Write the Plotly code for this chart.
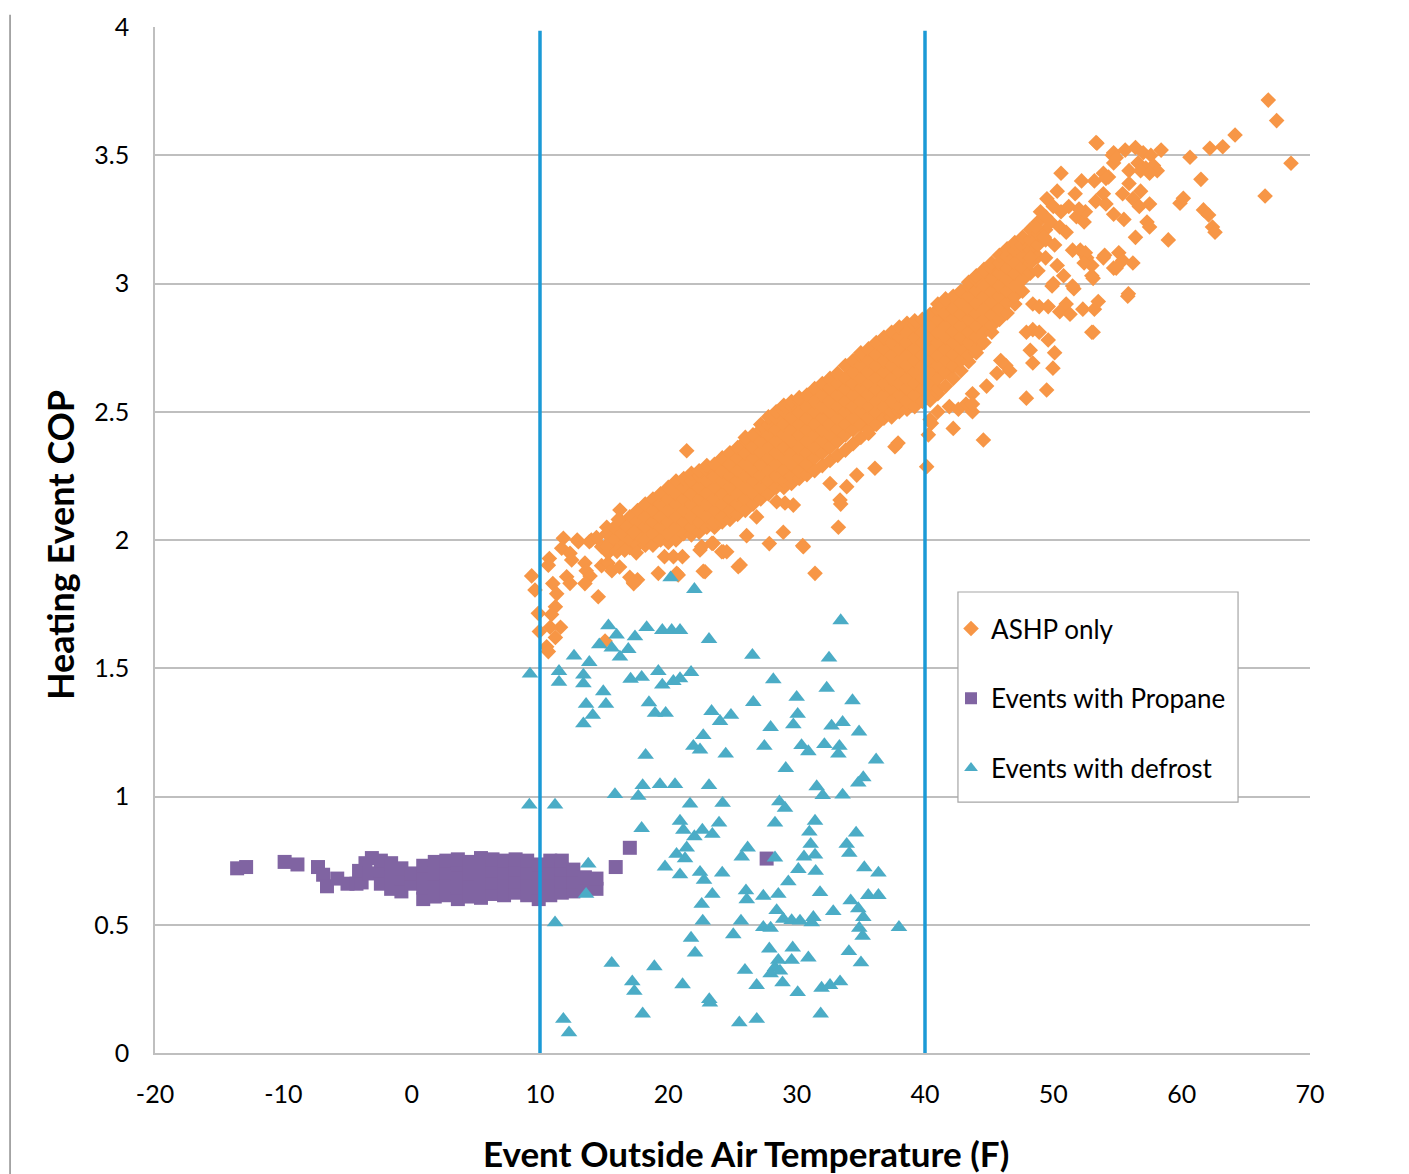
import plotly.graph_objects as go

# ---------------- data ----------------
# ASHP only: dense band, one column of events per x position
ashp_band_col_x = [15.2, 15.8, 16.4, 17.0, 17.6, 18.2, 18.8, 19.4, 20.0, 20.6,
                   21.2, 21.8, 22.4, 23.0, 23.6, 24.2, 24.8, 25.4, 26.0, 26.6,
                   27.2, 27.8, 28.4, 29.0, 29.6, 30.2, 30.8, 31.4, 32.0, 32.6,
                   33.2, 33.8, 34.4, 35.0, 35.6, 36.2, 36.8, 37.4, 38.0, 38.6,
                   39.2, 39.8, 40.4, 41.0, 41.6, 42.2, 42.8, 43.4, 44.0, 44.6,
                   45.2, 45.8, 46.4, 47.0, 47.6, 48.2, 48.8, 49.4]
ashp_band_col_y = [
    [1.96, 1.98, 2.025, 2.05],
    [1.97, 2.0, 2.05],
    [1.98, 2.025, 2.07],
    [1.97, 2.0, 2.05, 2.09],
    [1.98, 2.025, 2.07, 2.115],
    [1.98, 2.0, 2.05, 2.09, 2.14],
    [1.98, 2.025, 2.07, 2.115, 2.16],
    [2.0, 2.05, 2.09, 2.14, 2.18],
    [1.99, 2.025, 2.07, 2.115, 2.16, 2.205],
    [2.0, 2.05, 2.09, 2.14, 2.18, 2.23],
    [2.025, 2.07, 2.115, 2.16, 2.205, 2.24],
    [2.02, 2.05, 2.09, 2.14, 2.18, 2.23, 2.26],
    [2.03, 2.07, 2.115, 2.16, 2.205, 2.25, 2.27],
    [2.05, 2.09, 2.14, 2.18, 2.23, 2.27, 2.29],
    [2.05, 2.07, 2.115, 2.16, 2.205, 2.25, 2.295],
    [2.07, 2.09, 2.14, 2.18, 2.23, 2.27, 2.32],
    [2.08, 2.115, 2.16, 2.205, 2.25, 2.295, 2.34],
    [2.10, 2.14, 2.18, 2.23, 2.27, 2.32, 2.36],
    [2.115, 2.16, 2.205, 2.25, 2.295, 2.34, 2.385, 2.40],
    [2.14, 2.18, 2.23, 2.27, 2.32, 2.36, 2.41],
    [2.16, 2.205, 2.25, 2.295, 2.34, 2.385, 2.43, 2.45],
    [2.18, 2.23, 2.27, 2.32, 2.36, 2.41, 2.45, 2.48],
    [2.205, 2.25, 2.295, 2.34, 2.385, 2.43, 2.475, 2.50],
    [2.205, 2.23, 2.27, 2.32, 2.36, 2.41, 2.45, 2.50, 2.525],
    [2.22, 2.25, 2.295, 2.34, 2.385, 2.43, 2.475, 2.52, 2.54],
    [2.24, 2.27, 2.32, 2.36, 2.41, 2.45, 2.50, 2.54, 2.555],
    [2.255, 2.295, 2.34, 2.385, 2.43, 2.475, 2.52, 2.565],
    [2.27, 2.32, 2.36, 2.41, 2.45, 2.50, 2.54, 2.59],
    [2.29, 2.34, 2.385, 2.43, 2.475, 2.52, 2.565, 2.61],
    [2.31, 2.36, 2.41, 2.45, 2.50, 2.54, 2.59, 2.63],
    [2.33, 2.385, 2.43, 2.475, 2.52, 2.565, 2.61, 2.65],
    [2.35, 2.41, 2.45, 2.50, 2.54, 2.59, 2.63, 2.68],
    [2.375, 2.43, 2.475, 2.52, 2.565, 2.61, 2.655, 2.70],
    [2.40, 2.45, 2.50, 2.54, 2.59, 2.63, 2.68, 2.72, 2.73],
    [2.415, 2.43, 2.475, 2.52, 2.565, 2.61, 2.655, 2.70, 2.745],
    [2.45, 2.50, 2.54, 2.59, 2.63, 2.68, 2.72, 2.77],
    [2.475, 2.52, 2.565, 2.61, 2.655, 2.70, 2.745, 2.79],
    [2.48, 2.50, 2.54, 2.59, 2.63, 2.68, 2.72, 2.77, 2.81],
    [2.50, 2.52, 2.565, 2.61, 2.655, 2.70, 2.745, 2.79, 2.83],
    [2.51, 2.54, 2.59, 2.63, 2.68, 2.72, 2.77, 2.81, 2.845],
    [2.52, 2.565, 2.61, 2.655, 2.70, 2.745, 2.79, 2.835, 2.855],
    [2.54, 2.59, 2.63, 2.68, 2.72, 2.77, 2.81, 2.86],
    [2.545, 2.565, 2.61, 2.655, 2.70, 2.745, 2.79, 2.835, 2.88],
    [2.57, 2.59, 2.63, 2.68, 2.72, 2.77, 2.81, 2.86, 2.90, 2.92],
    [2.60, 2.655, 2.70, 2.745, 2.79, 2.835, 2.88, 2.925, 2.94],
    [2.63, 2.68, 2.72, 2.77, 2.81, 2.86, 2.90, 2.95],
    [2.66, 2.70, 2.745, 2.79, 2.835, 2.88, 2.925, 2.97],
    [2.695, 2.72, 2.77, 2.81, 2.86, 2.90, 2.95, 2.99, 3.005],
    [2.73, 2.745, 2.79, 2.835, 2.88, 2.925, 2.97, 3.015, 3.03],
    [2.77, 2.81, 2.86, 2.90, 2.95, 2.99, 3.04, 3.055],
    [2.81, 2.835, 2.88, 2.925, 2.97, 3.015, 3.06, 3.08],
    [2.86, 2.90, 2.95, 2.99, 3.04, 3.08, 3.11],
    [2.885, 2.925, 2.97, 3.015, 3.06, 3.105, 3.135],
    [2.92, 2.95, 2.99, 3.04, 3.08, 3.13, 3.16],
    [2.97, 3.015, 3.06, 3.105, 3.15, 3.18],
    [3.04, 3.08, 3.13, 3.17, 3.21],
    [3.105, 3.15, 3.195, 3.24],
    [3.17, 3.21, 3.26],
]

# ASHP only: scattered events outside the dense band
ashp_sparse_x = [
    9.35, 9.61, 9.87, 9.95, 10.52, 10.73, 10.65, 11.0, 11.3, 11.2, 10.9, 11.6, 10.8, 11.2,
    11.82, 11.69, 12.34, 12.47, 12.08, 12.34, 12.99, 13.85, 13.5, 13.6, 13.9, 13.5, 14.54,
    14.8, 15.2, 14.8, 15.3, 15.6, 16.2, 16.23, 16.1, 16.8, 17.3, 17.0, 17.3, 17.6, 15.3,
    16.0, 16.6, 17.5, 19.22, 20.65, 19.7, 20.4, 21.1, 21.43, 22.86, 24.16, 22.6, 23.4,
    25.45, 10.65, 15.07, 14.0, 14.4, 12.9, 31.43, 28.96, 30.47, 27.87, 33.25, 33.43, 26.1,
    24.28, 22.72, 20.77, 17.27, 36.1, 42.2, 40.13, 37.66, 37.9, 33.38, 33.9, 34.68, 32.6,
    30.52, 25.6, 24.55, 23.5, 22.47, 29.74, 29.09, 28.44, 26.88, 40.4, 41.0, 41.9, 42.6,
    43.2, 43.7, 40.5, 40.26, 44.55, 43.7, 44.8, 43.7, 45.9, 46.3, 46.6, 45.6, 47.9, 49.48,
    47.9, 48.4, 48.9, 49.6, 50.1, 49.97, 48.4, 48.2, 48.4, 48.9, 49.6, 50.0, 51.0, 50.5,
    51.3, 52.3, 53.2, 53.5, 53.0, 50.3, 50.8, 49.9, 51.5, 51.6, 51.5, 52.1, 52.6, 53.9,
    53.0, 53.0, 54.7, 49.5, 50.0, 50.6, 51.2, 51.8, 52.4, 49.8, 50.5, 51.0, 51.7, 50.3,
    49.0, 48.6, 49.3, 50.1, 48.2, 48.8, 49.4, 50.6, 52.2, 53.4, 54.6, 53.9, 54.3, 53.33,
    54.7, 55.6, 56.4, 57.0, 57.6, 58.4, 56.6, 57.2, 57.8, 58.1, 55.9, 56.8, 57.5, 54.7,
    54.9, 53.2, 54.1, 55.9, 55.4, 56.2, 56.8, 57.5, 56.7, 53.9, 54.1, 53.3, 52.5, 52.0,
    54.7, 55.5, 57.3, 57.5, 56.4, 55.1, 55.4, 56.2, 54.9, 54.0, 52.5, 52.4, 53.1, 55.85,
    53.1, 55.8, 58.96, 59.87, 60.13, 60.65, 61.5, 61.7, 62.1, 62.4, 62.6, 62.2, 63.2,
    64.16, 66.5, 66.75, 67.4, 68.52,
]
ashp_sparse_y = [
    1.86, 1.805, 1.714, 1.643, 1.584, 1.928, 1.902, 1.83, 1.79, 1.74, 1.71, 1.66, 1.66, 1.62,
    2.007, 1.968, 1.948, 1.922, 1.857, 1.831, 1.993, 1.993, 1.91, 1.88, 1.86, 1.83, 1.779,
    1.974, 1.974, 1.90, 1.91, 1.88, 1.895, 2.117, 2.08, 2.05, 2.03, 1.855, 1.83, 1.845, 1.95,
    1.955, 1.96, 1.95, 1.87, 1.87, 1.935, 1.935, 1.935, 2.348, 1.876, 1.954, 1.974, 1.987,
    1.896, 1.565, 1.606, 2.0, 2.01, 2.0, 1.87, 2.03, 1.978, 1.986, 2.05, 2.14, 2.017,
    1.954, 1.878, 1.864, 1.836, 2.28, 2.435, 2.286, 2.364, 2.378, 2.156, 2.208, 2.253, 2.22,
    1.974, 1.903, 1.954, 1.987, 1.961, 2.136, 2.144, 2.149, 2.09, 2.47, 2.50, 2.52, 2.51,
    2.53, 2.50, 2.455, 2.41, 2.39, 2.57, 2.60, 2.53, 2.70, 2.68, 2.66, 2.65, 2.553, 2.585,
    2.81, 2.82, 2.81, 2.78, 2.73, 2.67, 2.69, 2.74, 2.92, 2.91, 2.91, 3.0, 2.92, 2.89,
    2.88, 2.90, 2.90, 2.93, 2.81, 3.07, 3.03, 2.99, 2.99, 2.98, 3.13, 3.13, 3.10, 3.10,
    3.07, 3.03, 3.06, 3.33, 3.30, 3.28, 3.30, 3.26, 3.24, 3.24, 3.22, 3.20, 3.35, 3.36,
    3.28, 3.22, 3.18, 3.15, 3.10, 3.05, 3.10, 3.43, 3.40, 3.547, 3.50, 3.43, 3.415, 3.55,
    3.51, 3.52, 3.53, 3.51, 3.50, 3.52, 3.47, 3.45, 3.46, 3.44, 3.44, 3.44, 3.43, 3.47,
    3.49, 3.40, 3.41, 3.39, 3.35, 3.33, 3.36, 3.31, 3.30, 3.35, 3.31, 3.32, 3.28, 3.29,
    3.27, 3.25, 3.24, 3.22, 3.18, 3.12, 3.09, 3.08, 3.06, 3.11, 3.12, 3.08, 3.02, 2.96,
    2.81, 2.95, 3.17, 3.313, 3.332, 3.492, 3.406, 3.287, 3.267, 3.22, 3.2, 3.527, 3.533,
    3.579, 3.341, 3.715, 3.635, 3.469,
]

# Events with Propane
propane_sparse_x = [-13.6, -12.9, -9.9, -8.9, -7.3, -6.9, -6.6, -5.8, -5.0, -4.3, -3.9,
                    -4.1, -3.6, -3.1, -3.3, 15.9, 17.0, 27.66]
propane_sparse_y = [0.72, 0.725, 0.745, 0.735, 0.725, 0.695, 0.65, 0.68, 0.66, 0.66, 0.665,
                    0.71, 0.74, 0.76, 0.70, 0.725, 0.80, 0.758]
propane_col_x = [-2.4, -1.6, -0.8, 0.0, 0.9, 1.8, 2.7, 3.6, 4.5, 5.4, 6.3, 7.2, 8.1,
                 9.0, 9.9, 10.8, 11.7, 12.6, 13.5, 14.4]
propane_col_y = [
    [0.66, 0.71, 0.75],
    [0.64, 0.69, 0.74],
    [0.63, 0.68, 0.72],
    [0.66, 0.70],
    [0.60, 0.645, 0.69, 0.73],
    [0.61, 0.655, 0.70, 0.745],
    [0.615, 0.66, 0.705, 0.75],
    [0.60, 0.645, 0.69, 0.735, 0.755],
    [0.61, 0.655, 0.70, 0.745],
    [0.605, 0.65, 0.695, 0.74, 0.76],
    [0.62, 0.665, 0.71, 0.755],
    [0.615, 0.66, 0.705, 0.75],
    [0.625, 0.67, 0.715, 0.755],
    [0.615, 0.66, 0.705, 0.75],
    [0.60, 0.645, 0.69, 0.735],
    [0.615, 0.66, 0.705, 0.75],
    [0.625, 0.67, 0.715, 0.75],
    [0.63, 0.67, 0.715],
    [0.64, 0.685],
    [0.64, 0.68],
]

# Events with defrost
defrost_x = [
    20.18, 22.03, 33.43, 15.33, 15.97, 18.31, 19.53, 20.26, 20.91, 17.40, 23.17, 14.62,
    15.59, 16.88, 16.23, 12.65, 13.84, 26.55, 32.52, 9.22, 11.48, 11.48, 13.38, 13.38,
    17.06, 17.92, 19.22, 19.53, 20.39, 20.91, 21.77, 28.18, 32.34, 14.93, 15.14, 13.59,
    14.11, 13.38, 18.49, 18.96, 19.79, 23.37, 24.03, 24.88, 26.62, 30.0, 30.08, 29.74,
    34.35, 33.58, 32.72, 34.86, 27.97, 27.48, 22.72, 21.95, 22.47, 24.47, 18.23, 30.38,
    30.91, 32.16, 33.33, 33.25, 36.19, 29.15, 35.19, 34.80, 31.56, 32.03, 33.58, 18.0,
    17.66, 19.35, 20.52, 23.17, 15.84, 9.17, 11.17, 21.69, 24.23, 28.65, 29.09, 20.91,
    21.17, 17.92, 22.65, 23.43, 23.95, 22.03, 28.31, 31.43, 30.99, 34.63, 33.90, 34.10,
    31.09, 31.43, 30.57, 26.18, 25.72, 20.64, 21.43, 21.30, 19.74, 20.91, 22.47, 22.78,
    24.20, 28.31, 30.13, 29.35, 31.48, 35.27, 36.37, 13.76, 13.59, 26.05, 26.11, 27.40,
    28.57, 31.82, 35.58, 36.37, 23.43, 22.6, 11.17, 22.68, 25.66, 25.06, 32.85, 34.21,
    34.80, 35.19, 28.44, 28.96, 29.61, 30.26, 31.17, 31.30, 27.40, 27.97, 34.88, 35.14,
    37.97, 21.77, 22.08, 27.87, 29.69, 29.61, 30.91, 28.57, 28.31, 27.97, 28.70, 28.90,
    34.07, 35.01, 15.59, 18.91, 17.19, 17.35, 21.11, 25.97, 26.88, 30.08, 31.94, 32.60,
    33.38, 23.19, 23.24, 18.0, 11.82, 12.26, 25.53, 26.89, 31.87,
]
defrost_y = [
    1.853, 1.808, 1.686, 1.666, 1.63, 1.659, 1.648, 1.648, 1.648, 1.623, 1.613, 1.592,
    1.579, 1.574, 1.544, 1.548, 1.523, 1.551, 1.54, 1.478, 1.488, 1.446, 1.474, 1.44,
    1.458, 1.465, 1.488, 1.435, 1.449, 1.46, 1.484, 1.456, 1.423, 1.409, 1.36, 1.36,
    1.317, 1.284, 1.366, 1.325, 1.325, 1.332, 1.293, 1.317, 1.367, 1.387, 1.321, 1.28,
    1.374, 1.289, 1.275, 1.252, 1.27, 1.196, 1.238, 1.196, 1.182, 1.166, 1.161, 1.199,
    1.175, 1.203, 1.196, 1.166, 1.143, 1.11, 1.074, 1.053, 1.039, 1.004, 1.006, 1.043,
    1.001, 1.047, 1.047, 1.043, 1.008, 0.967, 0.967, 0.971, 0.974, 0.98, 0.955, 0.904,
    0.869, 0.876, 0.869, 0.853, 0.897, 0.844, 0.897, 0.904, 0.862, 0.858, 0.814, 0.779,
    0.814, 0.772, 0.765, 0.8, 0.765, 0.775, 0.8, 0.758, 0.726, 0.695, 0.705, 0.674,
    0.702, 0.761, 0.716, 0.668, 0.709, 0.723, 0.702, 0.737, 0.619, 0.633, 0.598, 0.612,
    0.619, 0.626, 0.615, 0.615, 0.619, 0.58, 0.508, 0.515, 0.515, 0.462, 0.552, 0.594,
    0.563, 0.529, 0.556, 0.522, 0.517, 0.515, 0.508, 0.529, 0.49, 0.487, 0.487, 0.456,
    0.49, 0.448, 0.39, 0.406, 0.41, 0.362, 0.371, 0.362, 0.334, 0.309, 0.32, 0.274,
    0.396, 0.352, 0.35, 0.337, 0.278, 0.241, 0.267, 0.323, 0.264, 0.236, 0.253, 0.264,
    0.278, 0.209, 0.195, 0.153, 0.132, 0.079, 0.118, 0.132, 0.153,
]

# Vertical reference lines (outside air temperature bins)
divider_x = [10, 40]
divider_y = [0, 3.985]

x_tick_vals = [-20, -10, 0, 10, 20, 30, 40, 50, 60, 70]
x_tick_text = ["-20", "-10", "0", "10", "20", "30", "40", "50", "60", "70"]
y_tick_vals = [0, 0.5, 1, 1.5, 2, 2.5, 3, 3.5, 4]
y_tick_text = ["0", "0.5", "1", "1.5", "2", "2.5", "3", "3.5", "4"]

x_title = "Event Outside Air Temperature (F)"
y_title = "Heating Event COP"

# ---------------- build ----------------
ashp_x, ashp_y = [], []
for cx, ys in zip(ashp_band_col_x, ashp_band_col_y):
    for yv in ys:
        ashp_x.append(cx)
        ashp_y.append(yv)
ashp_x += ashp_sparse_x
ashp_y += ashp_sparse_y

prop_x, prop_y = list(propane_sparse_x), list(propane_sparse_y)
for cx, ys in zip(propane_col_x, propane_col_y):
    for yv in ys:
        prop_x.append(cx)
        prop_y.append(yv)

ORANGE = "#F79646"
PURPLE = "#8064A2"
TEAL = "#4BACC6"
BLUE = "#1B9AD6"
FONT = "Lato"

fig = go.Figure()
fig.add_trace(go.Scatter(x=ashp_x, y=ashp_y, mode="markers", name="ASHP only",
                         legendgroup="a",
                         marker=dict(symbol="diamond", size=12, color=ORANGE, line=dict(width=0))))
fig.add_trace(go.Scatter(x=prop_x, y=prop_y, mode="markers", name="Events with Propane",
                         legendgroup="b",
                         marker=dict(symbol="square", size=14, color=PURPLE, line=dict(width=0))))
fig.add_trace(go.Scatter(x=defrost_x, y=defrost_y, mode="markers", name="Events with defrost",
                         legendgroup="c",
                         marker=dict(symbol="triangle-up", size=14.5, color=TEAL, line=dict(width=0))))
for dx in divider_x:
    fig.add_trace(go.Scatter(x=[dx, dx], y=divider_y, mode="lines", showlegend=False,
                             hoverinfo="skip", line=dict(color=BLUE, width=3.5)))

fig.update_layout(
    width=1409, height=1174,
    margin=dict(l=155, r=99, t=27, b=121),
    paper_bgcolor="white", plot_bgcolor="white",
    font=dict(family=FONT, color="#000000"),
    legend=dict(x=0.6892, y=0.4366, xanchor="left", yanchor="top",
                bgcolor="rgba(0,0,0,0)", borderwidth=0,
                font=dict(family=FONT, size=26, color="#000000"),
                tracegroupgap=33, itemsizing="constant"),
    xaxis=dict(range=[-20, 70], tickvals=x_tick_vals, ticktext=x_tick_text,
               showgrid=False, zeroline=False, showline=True, linecolor="#BFBFBF",
               linewidth=1.5, ticks="outside", ticklen=18, tickcolor="rgba(0,0,0,0)",
               tickfont=dict(family=FONT, size=25, color="#000000")),
    yaxis=dict(range=[0, 4], tickvals=y_tick_vals, ticktext=y_tick_text,
               showgrid=True, gridcolor="#BFBFBF", gridwidth=1.5, zeroline=False,
               showline=True, linecolor="#BFBFBF", linewidth=1.5,
               ticks="outside", ticklen=19, tickcolor="rgba(0,0,0,0)",
               tickfont=dict(family=FONT, size=25, color="#000000")),
    annotations=[
        dict(text=x_title, xref="paper", yref="paper", x=0.5117, y=-0.0975,
             xanchor="center", yanchor="middle", showarrow=False,
             font=dict(family=FONT, size=35, color="#000000", weight="bold")),
        dict(text=y_title, xref="paper", yref="paper", x=-0.0823, y=0.495,
             xanchor="center", yanchor="middle", showarrow=False, textangle=-90,
             font=dict(family=FONT, size=36, color="#000000", weight="bold")),
    ],
    shapes=[
        dict(type="line", xref="paper", yref="paper",
             x0=-0.1255, x1=-0.1255, y0=-0.118, y1=1.012,
             line=dict(color="#8C8C8C", width=1.5)),
        dict(type="rect", xref="paper", yref="paper", layer="above",
             x0=0.6952, x1=0.9377, y0=0.2446, y1=0.4493,
             fillcolor="white", line=dict(color="#A6A6A6", width=1.2)),
    ],
)

fig.write_html("out.html")
